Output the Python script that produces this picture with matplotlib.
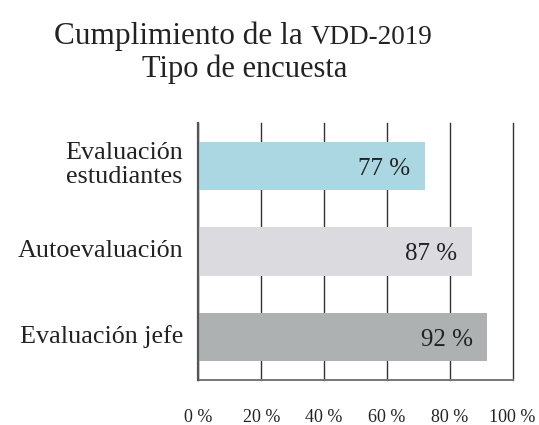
import matplotlib
matplotlib.use("Agg")
import matplotlib.pyplot as plt  # noqa: E402

# bars as drawn in the picture; printed labels kept separately (first bar reads 77 % but is drawn at ~72 %)
CATEGORIES = ["Evaluación\nestudiantes", "Autoevaluación", "Evaluación jefe"]
BAR_VALUES = [72, 87, 92]
BAR_LABELS = ["77 %", "87 %", "92 %"]
TICKS = [0, 20, 40, 60, 80, 100]
TICK_LABELS = ["0 %", "20 %", "40 %", "60 %", "80 %", "100 %"]
COLORS = ["#abd7e3", "#dbdadf", "#aeb1b2"]

plt.rcParams["font.family"] = ["Liberation Serif", "DejaVu Serif"]

fig = plt.figure(figsize=(5.39, 4.25), dpi=100)
ax = fig.add_axes([0.368, 0.106, 0.583, 0.604])

pos = range(len(CATEGORIES))
ax.barh(pos, BAR_VALUES, height=0.567, color=COLORS, zorder=2)
for i, (v, lab) in enumerate(zip(BAR_VALUES, BAR_LABELS)):
    ax.text(v - 4.6, i + 0.03, lab, ha="right", va="center", fontsize=18, color="#222222", zorder=3)

# category labels, right aligned left of the axis
for i, cat in enumerate(CATEGORIES):
    ax.text(-0.049, i - 0.01, cat, transform=ax.get_yaxis_transform(), ha="right", va="center",
            multialignment="center", fontsize=18.8, linespacing=1.15, color="#222222")

ax.set_xlim(0, 100)
ax.set_ylim(2.5, -0.5)
ax.set_xticks(TICKS)
ax.set_xticklabels(TICK_LABELS, fontsize=13, color="#222222")
ax.set_yticks([])
ax.tick_params(axis="x", length=0, pad=21)
ax.grid(axis="x", color="#333333", lw=1.0, zorder=1)
for gl in ax.get_xgridlines():
    gl.set_clip_on(False)
for s in ("top", "right"):
    ax.spines[s].set_visible(False)
ax.spines["left"].set_color("#555555")
ax.spines["left"].set_linewidth(1.6)
ax.spines["left"].set_zorder(4)
ax.spines["bottom"].set_color("#777777")
ax.spines["bottom"].set_linewidth(1.4)

# title with small-caps style "VDD-2019"
fig.canvas.draw()
r = fig.canvas.get_renderer()
t1 = fig.text(0, 0, "Cumplimiento de la ", fontsize=22.5, va="baseline", color="#222222")
t2 = fig.text(0, 0, "VDD-2019", fontsize=19.5, va="baseline", color="#222222")
w1 = t1.get_window_extent(r).width
w2 = t2.get_window_extent(r).width
x0 = 243 - (w1 + w2) / 2
base = 425 - 44
t1.set_position((x0 / 539, base / 425))
t2.set_position(((x0 + w1) / 539, base / 425))
fig.text(245 / 539, (425 - 77) / 425, "Tipo de encuesta", fontsize=22, ha="center",
         va="baseline", color="#222222")

fig.savefig("out.png", dpi=100)
